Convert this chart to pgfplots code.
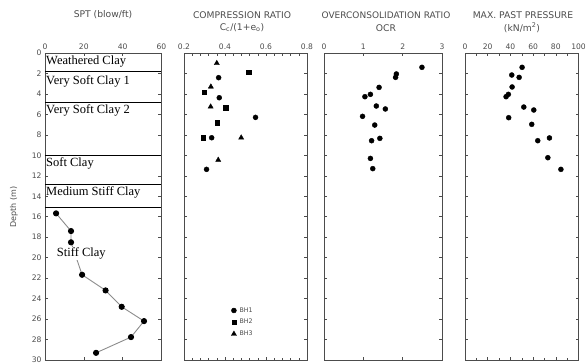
\documentclass[border=0pt]{standalone}
\usepackage{fontspec}
\setmainfont{Liberation Serif}
\newfontfamily\sansf{DejaVu Sans}
\usepackage{pgfplots}
\pgfplotsset{compat=1.18}

\definecolor{labgray}{gray}{0.30}
\definecolor{framegray}{gray}{0.30}
\definecolor{linegray}{gray}{0.55}

\pgfplotsset{
  logpanel/.style={
    scale only axis, height=307pt, y dir=reverse, ymin=0, ymax=30,
    anchor=north west,
    axis line style={framegray, line width=0.8pt},
    tick style={framegray, line width=0.5pt},
    major tick length=3pt, minor tick length=2.5pt,
    xticklabel pos=upper, tick pos=both, tick align=inside,
    ytick={0,2,...,30},
    ticklabel style={font=\sansf\fontsize{7.6}{8}\selectfont, text=labgray},
    /pgf/number format/assume math mode=true,
    clip=false,
  },
  bh/.style={only marks, mark options={black, fill=black}},
}

\begin{document}
\begin{tikzpicture}
\useasboundingbox (0pt,-364pt) rectangle (587pt,0pt);

% ---------- titles ----------
\begin{scope}[every node/.style={font=\sansf\fontsize{9.2}{10}\selectfont, text=labgray}]
\node at (103pt,-15pt) {SPT (blow/ft)};
\node at (242pt,-15pt) {COMPRESSION RATIO};
\node at (242pt,-28pt) {C\textsubscript{c}/(1+e\textsubscript{o})};
\node[font=\sansf\fontsize{9}{10}\selectfont] at (386pt,-15pt) {OVERCONSOLIDATION RATIO};
\node at (386pt,-28pt) {OCR};
\node at (523pt,-15pt) {MAX. PAST PRESSURE};
\node at (522pt,-28pt) {(kN/m\textsuperscript{2})};
\node[rotate=90, font=\sansf\fontsize{8}{9}\selectfont] at (14pt,-207pt) {Depth (m)};
\end{scope}

% ---------- SPT profile with soil layers ----------
\begin{axis}[logpanel, at={(45pt,-53pt)}, width=116.5pt,
  xmin=0, xmax=60, xtick={0,20,40,60}]
  \draw[black, line width=1.1pt] (axis cs:0,1.8) -- (axis cs:60,1.8);
  \draw[black, line width=0.9pt] (axis cs:0,4.8) -- (axis cs:60,4.8);
  \draw[black, line width=0.9pt] (axis cs:0,10) -- (axis cs:60,10);
  \draw[black, line width=0.9pt] (axis cs:0,12.8) -- (axis cs:60,12.8);
  \draw[black, line width=0.9pt] (axis cs:0,15.1) -- (axis cs:60,15.1);
  \addplot[linegray, line width=0.9pt, mark=*, mark size=2.6pt,
    mark options={black, fill=black}] coordinates {
    (5.7,15.67) (13.4,17.4) (13.4,18.5) (19.1,21.67) (31.2,23.2)
    (39.5,24.8) (51.0,26.2) (44.3,27.76) (26.3,29.3)};
  \begin{scope}[every node/.style={anchor=west, inner sep=1pt,
      font=\fontsize{12.5}{13}\selectfont}]
  \node at (axis cs:0,0.85) {Weathered Clay};
  \node at (axis cs:0,2.75) {Very Soft Clay 1};
  \node at (axis cs:0,5.65) {Very Soft Clay 2};
  \node at (axis cs:0,10.8) {Soft Clay};
  \node at (axis cs:0,13.65) {Medium Stiff Clay};
  \node[fill=white, inner sep=0.5pt] at (axis cs:5.8,19.6) {Stiff Clay};
  \end{scope}
\end{axis}

% ---------- compression ratio ----------
\begin{axis}[logpanel, at={(184pt,-53pt)}, width=123pt,
  xmin=0.2, xmax=0.8, xtick={0.2,0.4,0.6,0.8}, minor x tick num=4,
  yticklabels={},
  xticklabel style={/pgf/number format/.cd, fixed, precision=1, fixed zerofill},
  legend style={at={(axis cs:0.425,24.55)}, anchor=north west, draw=none,
    fill=none, font=\sansf\fontsize{6.3}{7}\selectfont, text=labgray,
    row sep=1.6pt, inner sep=1pt, nodes={inner xsep=3pt}},
  legend cell align=left]
  \addplot[bh, mark=*, mark size=2.5pt] coordinates {
    (0.369,2.41) (0.372,4.37) (0.549,6.29) (0.335,8.28) (0.310,11.37)};
  \addlegendentry{BH1}
  \addplot[bh, mark=square*, mark size=2.2pt] coordinates {
    (0.515,1.89) (0.299,3.85) (0.403,5.34) (0.362,6.80) (0.294,8.28)};
  \addlegendentry{BH2}
  \addplot[bh, mark=triangle*, mark size=3.0pt] coordinates {
    (0.360,1.00) (0.331,3.30) (0.330,5.25) (0.479,8.28) (0.367,10.46)};
  \addlegendentry{BH3}
\end{axis}

% ---------- overconsolidation ratio ----------
\begin{axis}[logpanel, at={(324pt,-53pt)}, width=118pt,
  xmin=0, xmax=3, xtick={0,1,2,3}, yticklabels={}]
  \addplot[bh, mark=*, mark size=2.5pt] coordinates {
    (2.49,1.40) (1.84,2.05) (1.82,2.38) (1.40,3.36) (1.18,4.04)
    (1.04,4.27) (1.33,5.18) (1.56,5.47) (0.98,6.19) (1.29,7.04)
    (1.42,8.34) (1.21,8.57) (1.18,10.30) (1.24,11.30)};
\end{axis}

% ---------- maximum past pressure ----------
\begin{axis}[logpanel, at={(465pt,-53pt)}, width=113.5pt,
  xmin=0, xmax=100, xtick={0,20,...,100}, minor x tick num=1, yticklabels={}]
  \addplot[bh, mark=*, mark size=2.5pt] coordinates {
    (50.3,1.40) (41.2,2.15) (47.7,2.38) (41.5,3.32) (38.2,4.04)
    (36.2,4.27) (51.8,5.28) (60.6,5.57) (38.5,6.32) (58.8,6.97)
    (74.4,8.30) (64.1,8.57) (73.0,10.23) (84.5,11.37)};
\end{axis}
\end{tikzpicture}
\end{document}
